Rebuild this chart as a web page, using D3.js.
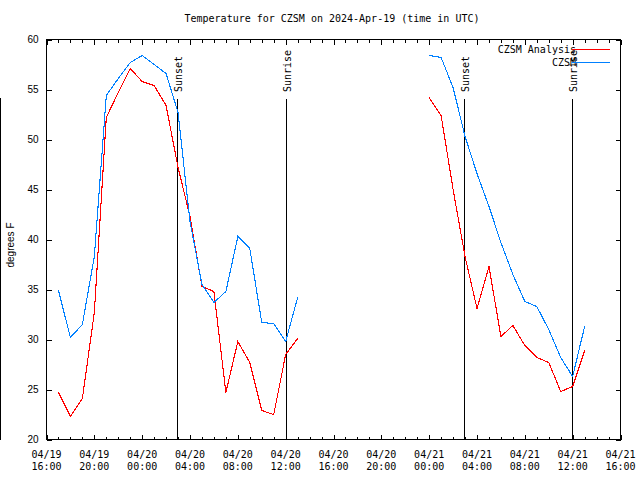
<!DOCTYPE html>
<html><head><meta charset="utf-8">
<script src="https://cdn.jsdelivr.net/npm/d3@7"></script>
<style>body{margin:0;background:#fff} svg{display:block}</style>
</head><body><svg id="c" width="640" height="480"></svg>
<script>
// ---- data ----
const times = [
  "2024-04-19 17:00","2024-04-19 18:00","2024-04-19 19:00","2024-04-19 20:00","2024-04-19 21:00",
  "2024-04-19 22:00","2024-04-19 23:00","2024-04-20 00:00","2024-04-20 01:00","2024-04-20 02:00",
  "2024-04-20 03:00","2024-04-20 04:00","2024-04-20 05:00","2024-04-20 06:00","2024-04-20 07:00",
  "2024-04-20 08:00","2024-04-20 09:00","2024-04-20 10:00","2024-04-20 11:00","2024-04-20 12:00",
  "2024-04-20 13:00",
  "2024-04-21 00:00","2024-04-21 01:00","2024-04-21 02:00","2024-04-21 03:00","2024-04-21 04:00",
  "2024-04-21 05:00","2024-04-21 06:00","2024-04-21 07:00","2024-04-21 08:00","2024-04-21 09:00",
  "2024-04-21 10:00","2024-04-21 11:00","2024-04-21 12:00","2024-04-21 13:00"
];
const analysis = [
  24.7,22.3,24.1,32.7,52.2,54.7,57.1,55.8,55.4,53.4,47.2,42.3,35.3,34.8,24.7,29.8,27.7,22.9,22.5,28.5,30.1,
  54.2,52.4,45.0,38.3,33.1,37.3,30.3,31.4,29.4,28.2,27.7,24.8,25.3,28.9
];
const czsm = [
  34.9,30.2,31.5,38.3,54.4,56.1,57.7,58.4,57.5,56.6,52.7,41.8,35.5,33.7,34.8,40.3,39.1,31.7,31.6,29.8,34.2,
  58.4,58.2,55.2,50.3,46.6,43.3,39.7,36.5,33.8,33.3,31.0,28.2,26.3,31.3
];
const seriesNames = ["CZSM Analysis","CZSM"];
const seriesColors = ["#ff0000","#0080ff"];
const eventTimes = ["2024-04-20 02:53","2024-04-20 12:03","2024-04-21 02:55","2024-04-21 11:58"];
const eventLabels = ["Sunset","Sunrise","Sunset","Sunrise"];
const xDomain = ["2024-04-19 16:00","2024-04-21 16:00"];
const xTickValues = [
  "2024-04-19 16:00","2024-04-19 20:00","2024-04-20 00:00","2024-04-20 04:00","2024-04-20 08:00",
  "2024-04-20 12:00","2024-04-20 16:00","2024-04-20 20:00","2024-04-21 00:00","2024-04-21 04:00",
  "2024-04-21 08:00","2024-04-21 12:00","2024-04-21 16:00"
];
const yTicks = [20,25,30,35,40,45,50,55,60];
const titleText = "Temperature for CZSM on 2024-Apr-19 (time in UTC)";
const yLabel = "degrees F";

// ---- chart ----
const parse = d3.utcParse("%Y-%m-%d %H:%M");
const svg = d3.select("#c");
const mono = "'DejaVu Sans Mono', 'Liberation Mono', monospace";
const sans = "'Liberation Sans', Arial, sans-serif";
const L = 46.5, R = 620.5, T = 39.5, B = 439.5;

const x = d3.scaleUtc().domain(xDomain.map(parse)).range([L, R]);
const y = d3.scaleLinear().domain([20, 60]).range([B, T]);

svg.append("rect").attr("width",640).attr("height",480).attr("fill","#fff");

// title
svg.append("text").attr("x",332).attr("y",19).attr("text-anchor","middle")
  .attr("dominant-baseline","middle").attr("font-family",mono).attr("font-size",10)
  .text(titleText);

// stray left line
svg.append("line").attr("x1",0.5).attr("x2",0.5).attr("y1",98).attr("y2",440)
  .attr("stroke","#000").attr("stroke-width",1);

// y label
svg.append("text").attr("transform","translate(11,245) rotate(-90)")
  .attr("text-anchor","middle").attr("dominant-baseline","middle")
  .attr("font-family",sans).attr("font-size",10).text(yLabel);

// axes ticks
const hourTicks = d3.utcHour.range(x.domain()[0], new Date(+x.domain()[1] + 1));
function tickAxis(axisFn, ty, size, vals) {
  const g = svg.append("g").attr("transform",`translate(0,${ty})`)
    .call(axisFn(x).tickValues(vals).tickSize(size).tickFormat(""));
  g.select(".domain").remove();
  g.selectAll("line").attr("stroke","#000").attr("shape-rendering","crispEdges");
  return g;
}
tickAxis(d3.axisBottom, B, -3, hourTicks);
tickAxis(d3.axisBottom, B, -5, xTickValues.map(parse));
tickAxis(d3.axisTop, T, -3, hourTicks);
tickAxis(d3.axisTop, T, -5, xTickValues.map(parse));

// x tick labels
const fmt1 = d3.utcFormat("%m/%d"), fmt2 = d3.utcFormat("%H:%M");
const xl = svg.append("g").attr("font-family",mono).attr("font-size",10);
xTickValues.map(parse).forEach(t => {
  const tx = xl.append("text").attr("x", x(t)).attr("text-anchor","middle");
  tx.append("tspan").attr("x", x(t)).attr("y", 458).text(fmt1(t));
  tx.append("tspan").attr("x", x(t)).attr("y", 470).text(fmt2(t));
});

// y axes
const gyl = svg.append("g").attr("transform",`translate(${L},0)`)
  .call(d3.axisLeft(y).tickValues(yTicks).tickSize(-5).tickPadding(8));
gyl.select(".domain").remove();
gyl.selectAll("line").attr("stroke","#000").attr("shape-rendering","crispEdges");
gyl.selectAll("text").attr("font-family",sans).attr("font-size",10).attr("fill","#000");
const gyr = svg.append("g").attr("transform",`translate(${R},0)`)
  .call(d3.axisRight(y).tickValues(yTicks).tickSize(-5).tickFormat(""));
gyr.select(".domain").remove();
gyr.selectAll("line").attr("stroke","#000").attr("shape-rendering","crispEdges");

// border
svg.append("rect").attr("x",L).attr("y",T).attr("width",R-L).attr("height",B-T)
  .attr("fill","none").attr("stroke","#000").attr("shape-rendering","crispEdges");

// sunrise / sunset
eventTimes.forEach((s,i) => {
  const ex = Math.round(x(parse(s))) + 0.5;
  svg.append("line").attr("x1",ex).attr("x2",ex).attr("y1",99).attr("y2",B)
    .attr("stroke","#000").attr("stroke-width",1).attr("shape-rendering","crispEdges");
  svg.append("text").attr("transform",`translate(${ex+4.5},92) rotate(-90)`)
    .attr("font-family",mono).attr("font-size",10).text(eventLabels[i]);
});

// series
const tdates = times.map(parse);
function segments(vals) {
  const segs = []; let cur = [];
  vals.forEach((v,i) => {
    if (i > 0 && (tdates[i] - tdates[i-1]) > 2*3600e3) { segs.push(cur); cur = []; }
    cur.push([tdates[i], v]);
  });
  segs.push(cur);
  return segs;
}
const line = d3.line().x(d => x(d[0])).y(d => y(d[1]));
[analysis, czsm].forEach((vals, k) => {
  segments(vals).forEach(seg => {
    svg.append("path").attr("d", line(seg)).attr("fill","none")
      .attr("stroke", seriesColors[k]).attr("stroke-width",1.1)
      .attr("shape-rendering","crispEdges");
  });
});

// legend
seriesNames.forEach((n,k) => {
  const ly = 49.5 + k*13;
  svg.append("text").attr("x",576).attr("y",ly).attr("text-anchor","end")
    .attr("dominant-baseline","middle").attr("font-family",mono).attr("font-size",10).text(n);
  svg.append("line").attr("x1",572).attr("x2",610).attr("y1",ly).attr("y2",ly)
    .attr("stroke",seriesColors[k]).attr("shape-rendering","crispEdges");
});
</script></body></html>
